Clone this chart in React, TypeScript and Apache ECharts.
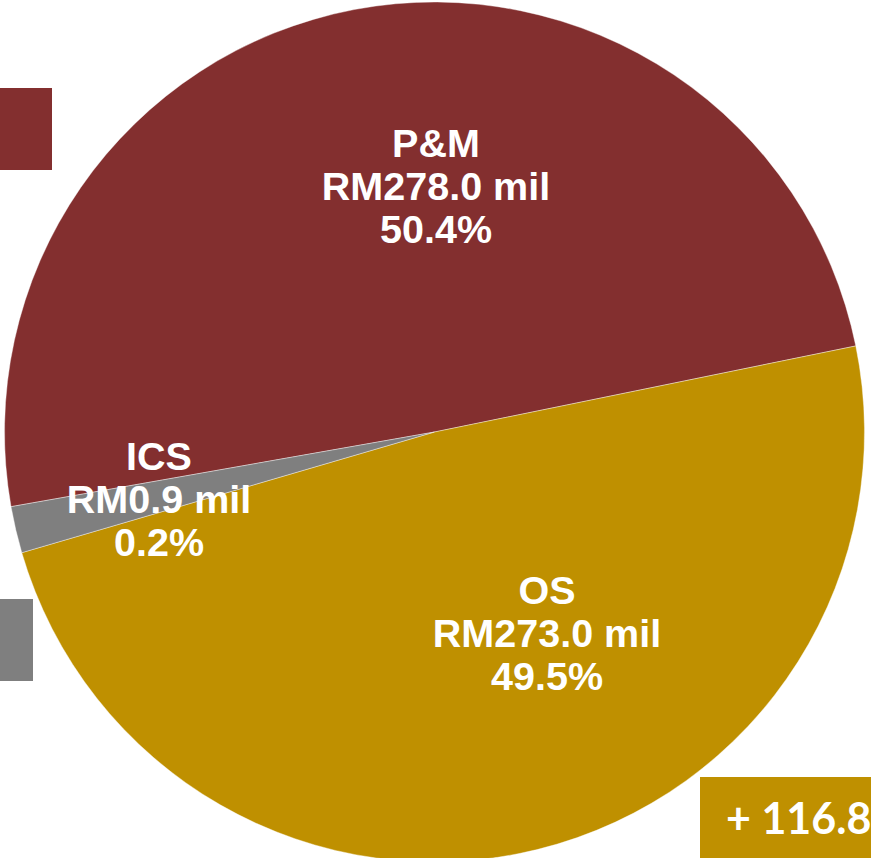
import React, { useEffect, useRef } from "react";
import * as echarts from "echarts";

const categories = ["P&M", "OS", "ICS"];
const valuesMil = [278.0, 273.0, 0.9];
const percents = ["50.4%", "49.5%", "0.2%"];
const colors = ["#832F2F", "#BF9000", "#7F7F7F"];
const calloutText = "+ 116.8";

export default function App() {
  const ref = useRef<HTMLDivElement>(null);
  useEffect(() => {
    if (!ref.current) return;
    const chart = echarts.init(ref.current, null, { renderer: "svg" });
    const labelPos = [
      [436, 186],
      [547, 633],
      [159, 499],
    ];
    chart.setOption({
      animation: false,
      backgroundColor: "#ffffff",
      graphic: [
        { type: "rect", shape: { x: 0, y: 88, width: 52, height: 82 }, style: { fill: colors[0] } },
        { type: "rect", shape: { x: 0, y: 599, width: 33, height: 82 }, style: { fill: colors[2] } },
        { type: "rect", shape: { x: 700, y: 777, width: 171, height: 81 }, style: { fill: colors[1] }, z: 10 },
        {
          type: "text",
          x: 726,
          y: 817,
          z: 11,
          style: {
            text: calloutText,
            fill: "#ffffff",
            font: "bold 43px Lato",
            textAlign: "left",
            textVerticalAlign: "middle",
          },
        },
      ],
      series: [
        {
          type: "pie",
          center: [434.5, 432],
          radius: 430,
          startAngle: 190,
          clockwise: true,
          minAngle: 6.3,
          avoidLabelOverlap: false,
          itemStyle: { borderColor: "#ffffff", borderWidth: 0.4 },
          label: {
            show: true,
            position: "inside",
            color: "#ffffff",
            fontFamily: "Liberation Sans",
            fontWeight: "bold",
            fontSize: 39.5,
            lineHeight: 43,
            align: "center",
            verticalAlign: "middle",
            formatter: (p: any) =>
              `${p.name}\nRM${valuesMil[p.dataIndex].toFixed(1)} mil\n${percents[p.dataIndex]}`,
          },
          labelLine: { show: false },
          labelLayout: (p: any) => ({
            x: labelPos[p.dataIndex][0],
            y: labelPos[p.dataIndex][1],
            align: "center",
            verticalAlign: "middle",
          }),
          data: categories.map((c, i) => ({
            name: c,
            value: valuesMil[i],
            itemStyle: { color: colors[i] },
          })),
        },
      ],
    });
    return () => chart.dispose();
  }, []);
  return (
    <div
      ref={ref}
      style={{ position: "absolute", left: 0, top: 0, width: 871, height: 858 }}
    />
  );
}
